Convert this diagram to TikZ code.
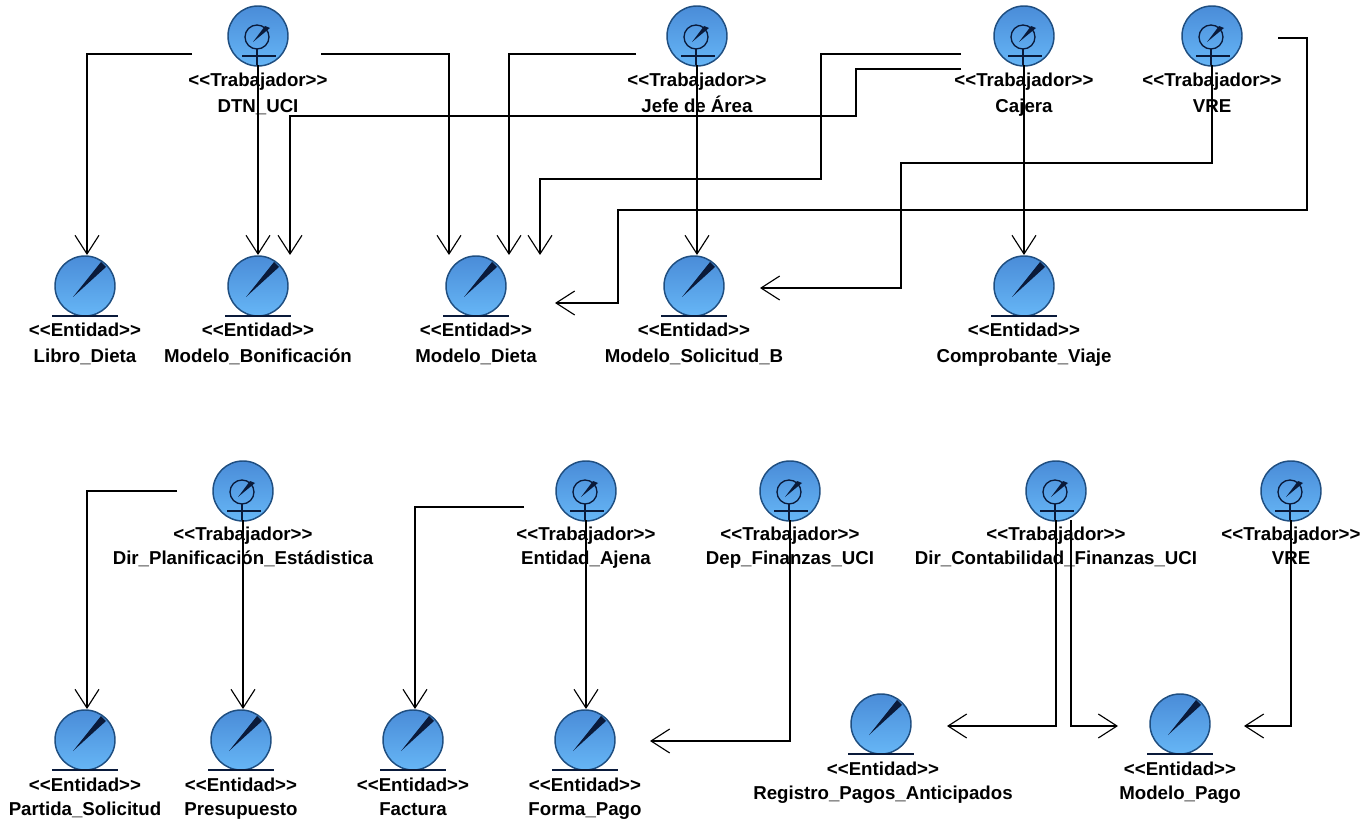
\documentclass[tikz,border=0pt]{standalone}
\usepackage{fontspec}
\setmainfont{Liberation Sans}
\usetikzlibrary{arrows.meta,calc}
\definecolor{ballTop}{HTML}{4A8CD8}
\definecolor{ballBottom}{HTML}{66B6F6}
\definecolor{ballEdge}{HTML}{1F4E80}
\definecolor{markDark}{HTML}{0A1A3A}
\newcommand{\rowskip}{19pt}
\newcommand{\wkshift}{58.5}
\tikzset{
  x=0.75pt,y=-0.75pt,
  ball/.style={circle,draw=ballEdge,line width=1.1pt,top color=ballTop,bottom color=ballBottom,minimum size=45pt,inner sep=0pt},
  lbl/.style={align=center,font=\fontsize{14}{\rowskip}\selectfont\bfseries,inner sep=0pt,text=black},
  glyph/.style={draw=markDark,line width=1pt},
  conn/.style={draw=black,line width=0.85pt,-{Straight Barb[length=14pt,width=18pt,line width=0.85pt]}},
}
\newcommand{\wk}[4]{%
  \node[ball] (#1) at (#2,#3) {};
  \draw[glyph] ($(#1)+(-1,1)$) circle (9pt);
  \fill[markDark] ($(#1)+(12,-8)$) -- ($(#1)+(7,-10)$) -- ($(#1)+(-5,6)$) -- cycle;
  \draw[glyph] ($(#1)+(-1,13)$) -- ++(0,16);
  \draw[glyph,line width=1.5pt] ($(#1)+(-16,20)$) -- ++(34,0);
  \node[lbl] (#1t) at ($(#1)+(0,\wkshift)$) {\strut<{}<Trabajador>{}>\\\strut#4};
}
\newcommand{\en}[5]{%
  \node[ball] (#1) at (#2,#3) {};
  \fill[markDark] ($(#1)+(16,-24)$) -- ($(#1)+(21,-19)$) -- ($(#1)+(-12,11)$) -- cycle;
  \draw[glyph,line width=1.8pt] ($(#1)+(-33,30)$) -- ++(66,0);
  \node[lbl] (#1t) at ($(#1)+(#5,58.5)$) {\strut<{}<Entidad>{}>\\\strut#4};
}
\begin{document}
\begin{tikzpicture}
\useasboundingbox (0,0) rectangle (1371,823);
% upper workers
\wk{wa}{258}{36}{DTN\_UCI}
\wk{wb}{697}{36}{Jefe de Área}
\wk{wc}{1024}{36}{Cajera}
\wk{wd}{1212}{36}{VRE}
% upper entities
\en{ea}{85}{286}{Libro\_Dieta}{0}
\en{eb}{258}{286}{Modelo\_Bonificación}{0}
\en{ec}{476}{286}{Modelo\_Dieta}{0}
\en{ed}{694}{286}{Modelo\_Solicitud\_B}{0}
\en{ee}{1024}{286}{Comprobante\_Viaje}{0}
% lower workers
\renewcommand{\rowskip}{18pt}
\renewcommand{\wkshift}{56.5}
\wk{we}{243}{491}{Dir\_Planificación\_Estádistica}
\wk{wf}{586}{491}{Entidad\_Ajena}
\wk{wg}{790}{491}{Dep\_Finanzas\_UCI}
\wk{wh}{1056}{491}{Dir\_Contabilidad\_Finanzas\_UCI}
\wk{wi}{1291}{491}{VRE}
% lower entities
\en{ef}{85}{740}{Partida\_Solicitud}{0}
\en{eg}{241}{740}{Presupuesto}{0}
\en{eh}{413}{740}{Factura}{0}
\en{ei}{585}{740}{Forma\_Pago}{0}
\en{ej}{881}{724}{Registro\_Pagos\_Anticipados}{2}
\en{ek}{1180}{724}{Modelo\_Pago}{0}
% upper connectors
\draw[conn] ($(wa)+(-66,18)$) -| ($(ea)+(2,-31)$);
\draw[conn] ($(wa)+(0,29)$) -- ($(eb)+(0,-31)$);
\draw[conn] ($(wa)+(63,18)$) -| ($(ec)+(-27,-31)$);
\draw[conn] ($(wb)+(-61,18)$) -| ($(ec)+(33,-31)$);
\draw[conn] ($(wb)+(0,29)$) -- ($(ed)+(3,-31)$);
\draw[conn] ($(wc)+(-63,18)$) -- (821,54) -- (821,179) -- (540,179) -- ($(ec)+(64,-31)$);
\draw[conn] ($(wc)+(-63,33)$) -- (856,69) -- (856,116) -- (290,116) -- ($(eb)+(32,-31)$);
\draw[conn] ($(wc)+(0,29)$) -- ($(ee)+(0,-31)$);
\draw[conn] ($(wd)+(66,2)$) -- (1307,38) -- (1307,210) -- (618,210) -- (618,303) -- ($(ec)+(79,17)$);
\draw[conn] ($(wd)+(0,29)$) -- (1212,163) -- (901,163) -- (901,288) -- ($(ed)+(66,2)$);
% lower connectors
\draw[conn] ($(we)+(-66,0)$) -| ($(ef)+(2,-31)$);
\draw[conn] ($(we)+(0,29)$) -- ($(eg)+(2,-31)$);
\draw[conn] ($(wf)+(-62,16)$) -| ($(eh)+(2,-31)$);
\draw[conn] ($(wf)+(0,29)$) -- ($(ei)+(1,-31)$);
\draw[conn] ($(wg)+(0,29)$) -- (790,741) -- ($(ei)+(65,1)$);
\draw[conn] ($(wh)+(0,29)$) -- (1056,726) -- ($(ej)+(66,2)$);
\draw[conn] ($(wh)+(15,29)$) -- (1071,726) -- ($(ek)+(-62,2)$);
\draw[conn] ($(wi)+(0,29)$) -- (1291,726) -- ($(ek)+(64,2)$);
\end{tikzpicture}
\end{document}
